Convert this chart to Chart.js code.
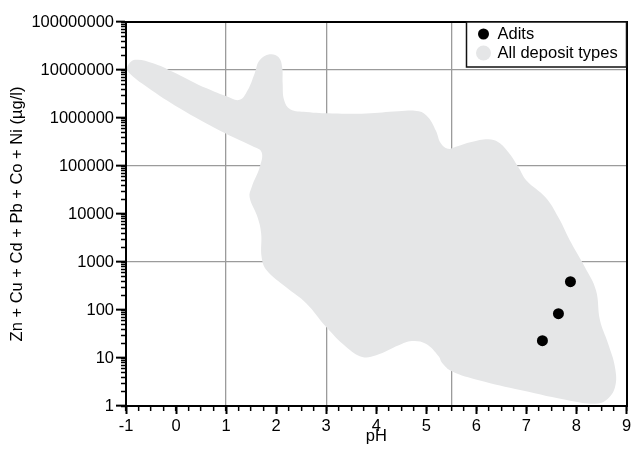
<!DOCTYPE html>
<html>
<head>
<meta charset="utf-8">
<script src="https://cdn.jsdelivr.net/npm/chart.js@4.4.0/dist/chart.umd.min.js"></script>
<style>
  html, body { margin: 0; padding: 0; background: #fff; }
  canvas { display: block; }
</style>
</head>
<body>
<canvas id="chart" width="632" height="452"></canvas>
<script>
// Adit drainage samples
const aditPH = [7.32, 7.64, 7.88];
const aditMetals = [23, 84, 390];

// Outline of the field covering all deposit types (pH, dissolved metals µg/l), traced clockwise
const fieldPH = [
  0.53, 1.01, 1.27, 1.43, 1.57, 1.67, 1.87, 2.05, 2.12, 2.13, 2.16, 2.28, 2.60, 3.12, 3.80,
  4.44, 4.85, 5.04, 5.19, 5.29, 5.43, 5.59, 5.90, 6.24, 6.44, 6.64, 6.84, 7.00, 7.38, 7.64,
  7.90, 8.17, 8.39, 8.47, 8.63, 8.77, 8.77, 8.59, 8.37, 7.90, 6.90, 6.05, 5.51, 5.31, 5.25,
  4.99, 4.71, 4.45, 4.00, 3.72, 3.40, 3.00, 2.60, 2.20, 1.81, 1.71, 1.70, 1.63, 1.47, 1.51,
  1.67, 1.71, 1.53, 0.87, 0.08, -0.58, -0.95, -0.97, -0.82, -0.46, -0.07, 0.53
];
const fieldMetals = [
  4.47e6, 2.83e6, 2.39e6, 3.78e6, 8.5e6, 1.59e7, 2.12e7, 1.84e7, 1.14e7, 5.3e6, 2.34e6, 1.52e6, 1.33e6, 1.24e6, 1.24e6,
  1.38e6, 1.38e6, 1.03e6, 5.5e5, 2.97e5, 2.28e5, 2.51e5, 3.16e5, 3.6e5, 3.12e5, 1.93e5, 9.4e4, 5.0e4, 2.23e4, 8500,
  2450, 776, 257, 61, 20.2, 6.4, 2.45, 1.31, 1.11, 1.27, 2.12, 3.43, 5.28, 8.1, 10.8,
  19.8, 22.6, 18.4, 11.4, 10.5, 16.9, 44, 138, 297, 671, 1250, 3960, 8500, 22300, 36000,
  94000, 193000, 257000, 5.5e5, 1.57e6, 4.43e6, 8.96e6, 1.19e7, 1.63e7, 1.38e7, 9.2e6, 4.47e6
];

// Axis ticks and labels
const xMajorTicks = [-1, 0, 1, 2, 3, 4, 5, 6, 7, 8, 9];
const xTickLabels = ['-1', '0', '1', '2', '3', '4', '5', '6', '7', '8', '9'];
const yMajorTicks = [1, 10, 100, 1000, 10000, 100000, 1000000, 10000000, 100000000];
const yTickLabels = ['1', '10', '100', '1000', '10000', '100000', '1000000', '10000000', '100000000'];
const xGridValues = [1, 3, 5.5];
const yGridValues = [1000, 100000, 10000000];

const seriesNames = ['Adits', 'All deposit types'];
const xTitle = 'pH';
const yTitle = 'Zn + Cu + Cd + Pb + Co + Ni (µg/l)';

// Minor tick positions: quarter pH units, and 2..9 within each decade
const xMinorTicks = [];
for (let i = 0; i <= 40; i++) xMinorTicks.push(-1 + i * 0.25);
const yMinorTicks = [];
for (let d = 0; d < 8; d++) {
  for (let m = 1; m <= 9; m++) yMinorTicks.push(m * Math.pow(10, d));
}
yMinorTicks.push(1e8);

const GRID = '#9b9b9b';
const CLEAR = 'rgba(0,0,0,0)';
const FIELD = '#e5e6e7';
const FONT_SIZE = 16.5;

Chart.defaults.font.family = '"Liberation Sans", Arial, Helvetica, sans-serif';
Chart.defaults.font.size = FONT_SIZE;
Chart.defaults.color = '#000';

const fixSize = (w, h) => (s) => {
  if (w !== null) s.width = w;
  if (h !== null) s.height = h;
  s.paddingLeft = s.paddingRight = s.paddingTop = s.paddingBottom = 0;
};

// Boxed legend in the upper-right corner of the plot
const boxLegend = {
  id: 'boxLegend',
  afterDraw(chart) {
    const { ctx, chartArea } = chart;
    const w = 160, h = 45;
    const x0 = chartArea.right - w, y0 = chartArea.top;
    ctx.save();
    ctx.fillStyle = '#fff';
    ctx.fillRect(x0, y0, w, h);
    ctx.strokeStyle = '#111';
    ctx.lineWidth = 1.5;
    ctx.strokeRect(x0, y0, w, h);
    const ds = chart.data.datasets;
    const rows = [
      { y: y0 + 12, r: 5.5, color: '#000', text: ds[0].label },
      { y: y0 + 31, r: 7.5, color: FIELD, text: ds[1].label }
    ];
    ctx.font = FONT_SIZE + 'px ' + Chart.defaults.font.family;
    ctx.textBaseline = 'middle';
    ctx.textAlign = 'left';
    for (const row of rows) {
      ctx.beginPath();
      ctx.arc(x0 + 17, row.y, row.r, 0, Math.PI * 2);
      ctx.fillStyle = row.color;
      ctx.fill();
      ctx.fillStyle = '#000';
      ctx.fillText(row.text, x0 + 31, row.y + 0.5);
    }
    ctx.restore();
  }
};

new Chart(document.getElementById('chart'), {
  type: 'scatter',
  data: {
    datasets: [
      {
        label: seriesNames[0],
        data: aditPH.map((x, i) => ({ x, y: aditMetals[i] })),
        backgroundColor: '#000',
        borderWidth: 0,
        pointRadius: 5.5,
        order: 0
      },
      {
        label: seriesNames[1],
        data: fieldPH.map((x, i) => ({ x, y: fieldMetals[i] })),
        showLine: true,
        fill: 'shape',
        backgroundColor: FIELD,
        borderColor: FIELD,
        borderWidth: 0,
        pointRadius: 0,
        tension: 0.4,
        order: 1
      }
    ]
  },
  options: {
    responsive: false,
    animation: false,
    devicePixelRatio: 1,
    layout: { padding: { left: 0, top: 22, right: 3, bottom: 0 } },
    plugins: { legend: { display: false }, tooltip: { enabled: false } },
    scales: {
      x: {
        type: 'linear', position: 'bottom', min: -1, max: 9, weight: 1,
        afterBuildTicks: (s) => { s.ticks = xMajorTicks.map(v => ({ value: v })); },
        afterFit: fixSize(null, 46),
        ticks: { autoSkip: false, maxRotation: 0, padding: 2.5, callback: (v, i) => xTickLabels[i] },
        grid: { drawOnChartArea: false, tickLength: 8, tickColor: '#000', tickWidth: 2 },
        border: { display: true, color: '#000', width: 2 },
        title: { display: true, text: xTitle, font: { size: FONT_SIZE }, padding: { top: 0, bottom: 5.5 } }
      },
      xMinor: {
        type: 'linear', position: 'bottom', min: -1, max: 9, weight: 0, z: 1,
        afterBuildTicks: (s) => { s.ticks = xMinorTicks.map(v => ({ value: v })); },
        afterFit: fixSize(null, 0),
        ticks: { display: false, autoSkip: false },
        grid: {
          color: (c) => (c.tick && xGridValues.includes(c.tick.value)) ? GRID : CLEAR,
          lineWidth: 1.3, tickLength: 5, tickColor: '#000', tickWidth: 1.5
        },
        border: { display: false }
      },
      xTop: {
        type: 'linear', position: 'top', min: -1, max: 9,
        afterFit: fixSize(null, 0),
        ticks: { display: false },
        grid: { display: false, drawTicks: false },
        border: { display: true, color: '#000', width: 2 }
      },
      y: {
        type: 'logarithmic', position: 'left', min: 1, max: 1e8, weight: 1, z: 1,
        afterBuildTicks: (s) => { s.ticks = yMajorTicks.map(v => ({ value: v })); },
        afterFit: fixSize(126, null),
        ticks: { autoSkip: false, padding: 2, callback: (v, i) => yTickLabels[i] },
        grid: {
          color: (c) => (c.tick && yGridValues.includes(c.tick.value)) ? GRID : CLEAR,
          lineWidth: 1.3, tickLength: 10, tickColor: '#000', tickWidth: 2
        },
        border: { display: true, color: '#000', width: 2 },
        title: { display: true, text: yTitle, font: { size: FONT_SIZE }, padding: { top: 7.5, bottom: 0 } }
      },
      yMinor: {
        type: 'logarithmic', position: 'left', min: 1, max: 1e8, weight: 0,
        afterBuildTicks: (s) => { s.ticks = yMinorTicks.map(v => ({ value: v })); },
        afterFit: fixSize(0, null),
        ticks: { display: false, autoSkip: false },
        grid: { drawOnChartArea: false, tickLength: 5, tickColor: '#000', tickWidth: 1.5 },
        border: { display: false }
      },
      yRight: {
        type: 'logarithmic', position: 'right', min: 1, max: 1e8,
        afterFit: fixSize(0, null),
        ticks: { display: false },
        grid: { display: false, drawTicks: false },
        border: { display: true, color: '#000', width: 2 }
      }
    }
  },
  plugins: [boxLegend]
});
</script>
</body>
</html>
